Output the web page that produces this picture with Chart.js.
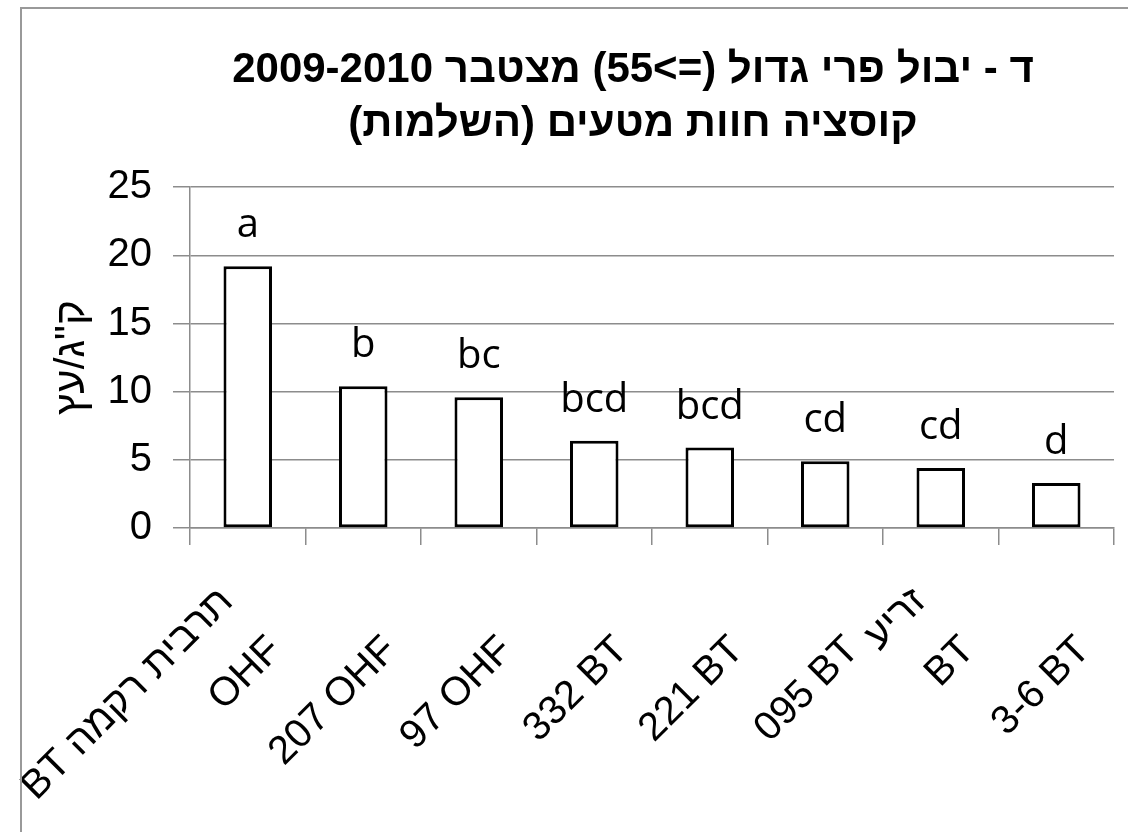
<!DOCTYPE html>
<html>
<head>
<meta charset="utf-8">
<script src="https://cdn.jsdelivr.net/npm/chart.js@4"></script>
<style>
  html, body { margin: 0; padding: 0; background: #fff; overflow: hidden; }
  #wrap { position: relative; width: 1128px; height: 832px; }
  #frame { position: absolute; left: 20px; top: 7px; width: 1200px; height: 900px;
           border-left: 2px solid #999; border-top: 2px solid #999; pointer-events: none; }
  canvas { position: absolute; left: 0; top: 0; }
</style>
</head>
<body>
<div id="wrap">
  <canvas id="chart" width="1128" height="832" dir="rtl"></canvas>
  <div id="frame"></div>
</div>
<script>
const titleLines = ['ד - יבול פרי גדול (=>55) מצטבר 2009-2010', 'קוסציה חוות מטעים (השלמות)'];
const yTitle = 'ק"ג/עץ';
// \u200E keeps the number on the left of the rootstock name
const categories = [
  ['תרבית רקמה BT', 'OHF'],
  ['', '\u200E207 OHF'],
  ['', '\u200E97 OHF'],
  ['', '\u200E332 BT'],
  ['', '\u200E221 BT'],
  ['', '\u200E095 BT'],
  ['זריע', 'BT'],
  ['', '\u200E3-6 BT']
];
const yields = [19.2, 10.4, 9.6, 6.4, 5.9, 4.9, 4.4, 3.3];
const letters = ['a', 'b', 'bc', 'bcd', 'bcd', 'cd', 'cd', 'd'];

const gridGray = '#8c8c8c';

// letters of significance above the bars
const letterLabels = {
  id: 'letterLabels',
  afterDatasetsDraw(chart) {
    const ctx = chart.ctx;
    const meta = chart.getDatasetMeta(0);
    ctx.save();
    ctx.direction = 'ltr';
    ctx.font = '40px "Open Sans", sans-serif';
    ctx.fillStyle = '#000';
    ctx.textAlign = 'center';
    ctx.textBaseline = 'alphabetic';
    meta.data.forEach((bar, i) => {
      ctx.fillText(letters[i], bar.x, bar.y - 29);
    });
    ctx.restore();
  }
};

// keep the title centred where the original has it
const titleShift = {
  id: 'titleShift',
  afterLayout(chart) {
    const t = chart.titleBlock;
    t.left = 633 - 540;
    t.right = 633 + 540;
  }
};

new Chart(document.getElementById('chart'), {
  type: 'bar',
  data: {
    labels: categories,
    datasets: [{
      data: yields,
      backgroundColor: '#fff',
      borderColor: '#000',
      borderWidth: 3,
      borderSkipped: false,
      barPercentage: 0.42,
      categoryPercentage: 1
    }]
  },
  options: {
    responsive: false,
    animation: false,
    layout: { padding: { left: 0, right: 14, top: 0, bottom: 0 } },
    plugins: {
      legend: { display: false },
      tooltip: { enabled: false },
      title: {
        display: true,
        text: titleLines,
        color: '#000',
        font: { family: '"Liberation Sans", Arial, sans-serif', size: 42, weight: 'bold', lineHeight: 1.3 },
        padding: { top: 43, bottom: 35 }
      }
    },
    scales: {
      x: {
        grid: { drawOnChartArea: false, color: gridGray, lineWidth: 1.5, tickLength: 17, offset: true },
        border: { color: gridGray, width: 1.5 },
        ticks: {
          color: '#000',
          autoSkip: false,
          maxRotation: 45,
          minRotation: 45,
          padding: 26,
          labelOffset: -21,
          font: { family: '"Liberation Sans", Arial, sans-serif', size: 40, lineHeight: 1.72 }
        },
        afterFit(scale) {
          scale.paddingLeft = 0;
          scale.paddingRight = 0;
          scale.height = 832 - 528;
        }
      },
      y: {
        min: 0,
        max: 25,
        grid: { color: gridGray, lineWidth: 1.5, tickLength: 17 },
        border: { color: gridGray, width: 1.5 },
        ticks: {
          stepSize: 5,
          color: '#000',
          padding: 21,
          font: { family: '"Liberation Sans", Arial, sans-serif', size: 40 }
        },
        title: {
          display: true,
          text: yTitle,
          color: '#000',
          font: { family: '"Liberation Sans", Arial, sans-serif', size: 42, lineHeight: 1.2 },
          padding: { top: 47, bottom: 0 }
        },
        afterFit(scale) {
          scale.width = 190;
        }
      }
    }
  },
  plugins: [letterLabels, titleShift]
});
</script>
</body>
</html>
